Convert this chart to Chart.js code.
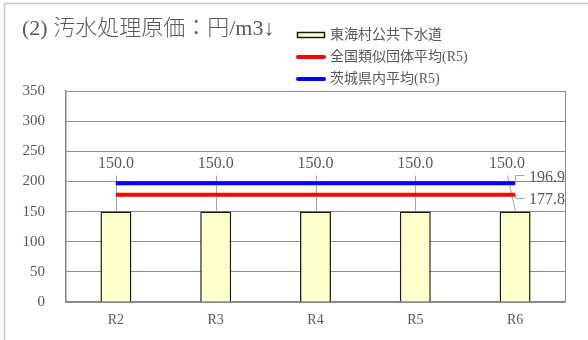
<!DOCTYPE html>
<html lang="ja">
<head>
<meta charset="utf-8">
<title>汚水処理原価</title>
<script src="https://cdn.jsdelivr.net/npm/chart.js@4.4.1/dist/chart.umd.min.js"></script>
<style>
  html, body { margin: 0; padding: 0; background: #fff; }
  #wrap { position: relative; width: 588px; height: 340px; }
</style>
</head>
<body>
<div id="wrap"><canvas id="costChart" width="588" height="340"></canvas></div>
<script>
// 汚水処理原価（円/m3）
const years = ['R2', 'R3', 'R4', 'R5', 'R6'];
const villageCost = [150.0, 150.0, 150.0, 150.0, 150.0];
const nationalAvg = [177.8, 177.8, 177.8, 177.8, 177.8];
const prefectureAvg = [196.9, 196.9, 196.9, 196.9, 196.9];
const seriesNames = ['東海村公共下水道', '全国類似団体平均(R5)', '茨城県内平均(R5)'];
const yMin = 0, yMax = 350, yStep = 50;

const FONT = '"Liberation Serif", "Noto Sans CJK JP", serif';
const TEXT = '#595959';
const LEADER = '#a6a6a6';

// frame, title and legend
const decor = {
  id: 'decor',
  beforeDraw(chart) {
    const ctx = chart.ctx;
    ctx.save();
    ctx.strokeStyle = '#c6c6c6';
    ctx.lineWidth = 1.5;
    ctx.beginPath();
    ctx.moveTo(4.5, chart.height);
    ctx.lineTo(4.5, 3.5);
    ctx.lineTo(chart.width, 3.5);
    ctx.stroke();
    ctx.restore();
  },
  afterDraw(chart) {
    const ctx = chart.ctx;
    const a = chart.chartArea;
    ctx.save();
    // right edge of plot
    ctx.strokeStyle = '#8c8c8c';
    ctx.lineWidth = 1;
    ctx.beginPath();
    ctx.moveTo(Math.round(a.right) + 0.5, a.top);
    ctx.lineTo(Math.round(a.right) + 0.5, a.bottom);
    ctx.stroke();

    ctx.fillStyle = TEXT;
    ctx.textBaseline = 'middle';
    ctx.textAlign = 'left';
    ctx.font = '300 22px ' + FONT;
    ctx.fillText('(2) 汚水処理原価：円/m3↓', 22, 29);

    // legend
    ctx.font = '14px ' + FONT;
    chart.data.datasets.forEach((ds, i) => {
      const y = 35 + i * 22;
      if (ds.type === 'line') {
        ctx.strokeStyle = ds.borderColor;
        ctx.lineWidth = 4;
        ctx.lineCap = 'round';
        ctx.beginPath();
        ctx.moveTo(298, y);
        ctx.lineTo(324, y);
        ctx.stroke();
      } else {
        ctx.fillStyle = ds.backgroundColor;
        ctx.fillRect(297, y - 3, 28, 6);
        ctx.strokeStyle = '#1a1a1a';
        ctx.lineWidth = 1.5;
        ctx.strokeRect(297.5, y - 2.5, 27, 5);
      }
      ctx.fillStyle = TEXT;
      ctx.fillText(ds.label, 330, y);
    });
    ctx.restore();
  }
};

// value labels with leader lines
const barShift = { 4: -8 };
const valueLabels = {
  id: 'valueLabels',
  beforeDatasetsDraw(chart) {
    const ctx = chart.ctx;
    const meta = chart.getDatasetMeta(0);
    ctx.save();
    ctx.strokeStyle = LEADER;
    ctx.lineWidth = 1;
    meta.data.forEach((el, i) => {
      const lx = el.x + (barShift[i] || 0);
      ctx.beginPath();
      ctx.moveTo(Math.round(lx) + 0.5, el.y - 36);
      ctx.lineTo(Math.round(el.x) + 0.5, el.y);
      ctx.stroke();
    });
    ctx.restore();
  },
  afterDatasetsDraw(chart) {
    const ctx = chart.ctx;
    ctx.save();
    ctx.font = '16px ' + FONT;
    ctx.fillStyle = TEXT;
    ctx.textBaseline = 'middle';

    const bars = chart.getDatasetMeta(0);
    ctx.textAlign = 'center';
    bars.data.forEach((el, i) => {
      const v = chart.data.datasets[0].data[i];
      ctx.fillText(v.toFixed(1), el.x + (barShift[i] || 0), el.y - 48);
    });

    // line end labels: [dataset index, vertical offset]
    [[1, 3], [2, -8]].forEach(([di, dy]) => {
      const meta = chart.getDatasetMeta(di);
      const el = meta.data[meta.data.length - 1];
      const v = chart.data.datasets[di].data[meta.data.length - 1];
      const x = Math.round(el.x) + 0.5;
      ctx.strokeStyle = LEADER;
      ctx.lineWidth = 1;
      ctx.beginPath();
      ctx.moveTo(x, el.y);
      ctx.lineTo(x, Math.round(el.y + dy) + 0.5);
      ctx.lineTo(x + 9, Math.round(el.y + dy) + 0.5);
      ctx.stroke();
      ctx.textAlign = 'left';
      ctx.fillText(v.toFixed(1), el.x + 14, el.y + dy + 2);
    });
    ctx.restore();
  }
};

new Chart(document.getElementById('costChart'), {
  type: 'bar',
  data: {
    labels: years,
    datasets: [
      {
        label: seriesNames[0],
        data: villageCost,
        backgroundColor: '#ffffcc',
        borderColor: '#1a1a1a',
        borderWidth: 1.5,
        barPercentage: 0.31,
        categoryPercentage: 1,
        order: 3
      },
      {
        type: 'line',
        label: seriesNames[1],
        data: nationalAvg,
        borderColor: '#ff0000',
        borderWidth: 4,
        pointRadius: 0,
        fill: false,
        order: 2
      },
      {
        type: 'line',
        label: seriesNames[2],
        data: prefectureAvg,
        borderColor: '#0000ff',
        borderWidth: 4,
        pointRadius: 0,
        fill: false,
        order: 1
      }
    ]
  },
  options: {
    responsive: false,
    animation: false,
    devicePixelRatio: 1,
    layout: { padding: { top: 91, right: 23, left: 0, bottom: 0 } },
    plugins: {
      legend: { display: false },
      title: { display: false },
      tooltip: { enabled: false }
    },
    scales: {
      x: {
        grid: { display: false, drawTicks: false },
        border: { color: '#868686', width: 1.5 },
        ticks: { color: TEXT, font: { family: FONT, size: 14 }, padding: 10 },
        afterFit(axis) { axis.height = 38; }
      },
      y: {
        min: yMin,
        max: yMax,
        ticks: { stepSize: yStep, color: TEXT, font: { family: FONT, size: 15 }, padding: 21 },
        grid: { color: '#8c8c8c', drawTicks: false },
        border: { color: '#868686', width: 1.5 },
        afterFit(axis) { axis.width = 66; }
      }
    }
  },
  plugins: [decor, valueLabels]
});
</script>
</body>
</html>
